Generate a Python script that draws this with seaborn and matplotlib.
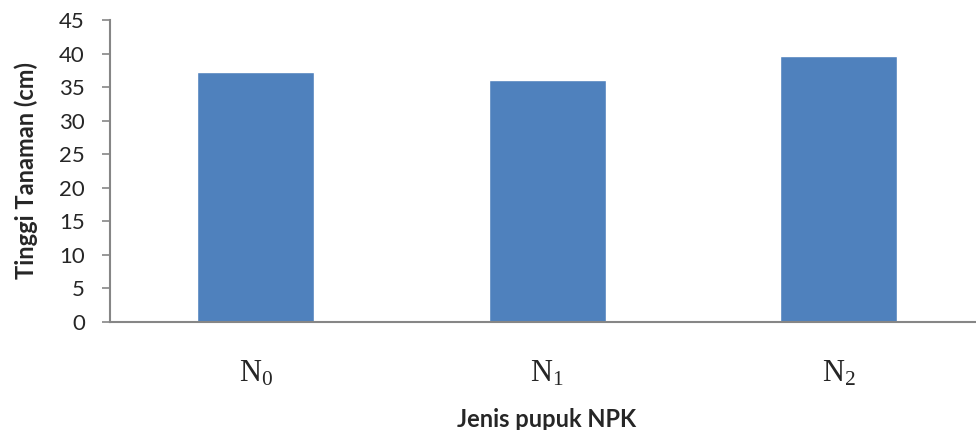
import pandas as pd
import matplotlib
matplotlib.use('Agg')
import matplotlib.pyplot as plt
import seaborn as sns

## data
perlakuan = ['N$_0$', 'N$_1$', 'N$_2$']
tinggi = [37.25, 36.05, 39.6]

df = pd.DataFrame({'perlakuan': perlakuan, 'tinggi': tinggi})

sns.set_style('white')
plt.rcParams['font.family'] = ['Lato', 'DejaVu Sans']
plt.rcParams['mathtext.fontset'] = 'custom'
plt.rcParams['mathtext.rm'] = 'Liberation Serif'
plt.rcParams['mathtext.it'] = 'Liberation Serif:italic'

fig, ax = plt.subplots(figsize=(9.76, 4.30), dpi=100)
# the category axis runs a little past the right edge of the picture
fig.subplots_adjust(left=0.1127, right=1.0087, top=0.9535, bottom=0.2512)

sns.barplot(x='perlakuan', y='tinggi', data=df, color='#4F81BD', saturation=1,
            width=0.40, ax=ax)

ax.set_xlim(-0.5, 2.5)
ax.set_ylim(0, 45)
ax.set_yticks(range(0, 46, 5))
ax.tick_params(axis='y', labelsize=16, length=6, color='#868686', width=1.2, pad=12,
               left=True)
ax.tick_params(axis='x', length=0, pad=27)
for lbl in ax.get_xticklabels():
    lbl.set_fontfamily('Liberation Serif')
    lbl.set_fontsize(22)

for side in ['top', 'right']:
    ax.spines[side].set_visible(False)
for side in ['left', 'bottom']:
    ax.spines[side].set_color('#868686')
    ax.spines[side].set_linewidth(1.5)

ax.set_ylabel('Tinggi Tanaman (cm)', fontsize=17, fontweight='bold')
ax.yaxis.set_label_coords(-0.082, 0.5)
ax.set_xlabel('Jenis pupuk NPK', fontsize=17, fontweight='bold')
ax.xaxis.set_label_coords((547 - 110) / 874.5, -0.285)

fig.savefig('out.png', dpi=100)
